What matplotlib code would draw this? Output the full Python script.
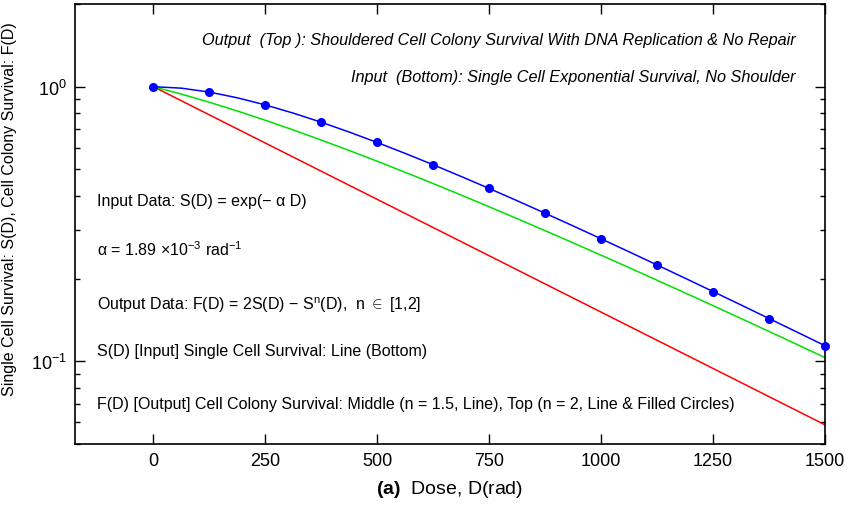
import numpy as np
import matplotlib.pyplot as plt
from matplotlib.ticker import LogLocator, NullFormatter

plt.rcParams['font.family'] = ['Liberation Sans', 'DejaVu Sans']
plt.rcParams['mathtext.fontset'] = 'custom'
plt.rcParams['mathtext.rm'] = 'Liberation Sans'
plt.rcParams['mathtext.it'] = 'Liberation Sans:italic'
plt.rcParams['mathtext.bf'] = 'Liberation Sans:bold'

# dose (rad) and survival values
dose = [0, 62.5, 125, 187.5, 250, 312.5, 375, 437.5, 500, 562.5, 625, 687.5, 750,
        812.5, 875, 937.5, 1000, 1062.5, 1125, 1187.5, 1250, 1312.5, 1375, 1437.5, 1500]
single = [1, 0.88859, 0.78958, 0.70161, 0.62343, 0.55398, 0.49225, 0.43740, 0.38867,
          0.34537, 0.30689, 0.27270, 0.24231, 0.21532, 0.19132, 0.17001, 0.15106,
          0.13424, 0.11927, 0.10599, 0.09418, 0.08369, 0.07436, 0.06608, 0.05871]
middle = [1, 0.93955, 0.87755, 0.81554, 0.75461, 0.69563, 0.63913, 0.58552, 0.53503,
          0.48777, 0.44377, 0.40299, 0.36534, 0.33073, 0.29896, 0.26992, 0.24341,
          0.21930, 0.19735, 0.17747, 0.15946, 0.14317, 0.12844, 0.11517, 0.10319]
top = [1, 0.98759, 0.95572, 0.91096, 0.85819, 0.80107, 0.74219, 0.68348, 0.62628,
       0.57146, 0.51960, 0.47103, 0.42591, 0.38428, 0.34604, 0.31112, 0.27930,
       0.25046, 0.22431, 0.20075, 0.17949, 0.16038, 0.14319, 0.12779, 0.11397]
dose_pts = [0, 125, 250, 375, 500, 625, 750, 875, 1000, 1125, 1250, 1375, 1500]
top_pts = [1, 0.95572, 0.85819, 0.74219, 0.62628, 0.51960, 0.42591, 0.34604,
           0.27930, 0.22431, 0.17949, 0.14319, 0.11397]
xticks = [0, 250, 500, 750, 1000, 1250, 1500]

fig = plt.figure(figsize=(8.5, 5.06), dpi=100)
ax = fig.add_axes([75/850, 61/506, 750/850, 440/506])

ax.plot(dose, single, color='#ff0000', lw=1.1)
ax.plot(dose, middle, color='#00e000', lw=1.1)
ax.plot(dose, top, color='#0000ff', lw=1.1)
ax.plot(dose_pts, top_pts, 'o', color='#0000ff', ms=5.5, clip_on=False, zorder=5)

ax.set_yscale('log')
ax.set_xlim(-175, 1500)
ax.set_ylim(0.05, 2)
ax.set_xticks(xticks)
ax.yaxis.set_major_locator(LogLocator(base=10, numticks=10))
ax.yaxis.set_minor_locator(LogLocator(base=10, subs=np.arange(2, 10), numticks=10))
ax.yaxis.set_minor_formatter(NullFormatter())
ax.tick_params(which='both', direction='in', top=True, right=True, labelsize=13, width=1)
ax.tick_params(which='major', length=7.2, pad=6)
ax.tick_params(which='minor', length=3.6)
for s in ax.spines.values():
    s.set_linewidth(1.2)

ax.set_xlabel(r'$\mathbf{(a)}$  Dose, D(rad)', fontsize=14, labelpad=6)
ax.set_ylabel('Single Cell Survival: S(D), Cell Colony Survival: F(D)', fontsize=11.5)
ax.yaxis.set_label_coords(-0.077, 0.536)

fs = 11.5
ax.text(0.961, 0.920, 'Output  (Top ): Shouldered Cell Colony Survival With DNA Replication & No Repair',
        transform=ax.transAxes, ha='right', va='center', fontsize=11.7, style='italic')
ax.text(0.961, 0.836, 'Input  (Bottom): Single Cell Exponential Survival, No Shoulder',
        transform=ax.transAxes, ha='right', va='center', fontsize=11.7, style='italic')

lx = 0.029
ax.text(lx, 0.553, 'Input Data: S(D) = exp(\u2212 \u03b1 D)', transform=ax.transAxes,
        va='center', fontsize=fs)
ax.text(lx, 0.443, '\u03b1 = 1.89 \u00d710$^{\u22123}$ rad$^{\u22121}$', transform=ax.transAxes,
        va='center', fontsize=fs)
ax.text(lx, 0.318, 'Output Data: F(D) = 2S(D) \u2212 S$^{\\mathrm{n}}$(D),  n $\\in$ [1,2]',
        transform=ax.transAxes, va='center', fontsize=fs)
ax.text(lx, 0.212, 'S(D) [Input] Single Cell Survival: Line (Bottom)', transform=ax.transAxes,
        va='center', fontsize=fs)
ax.text(lx, 0.091, 'F(D) [Output] Cell Colony Survival: Middle (n = 1.5, Line), Top (n = 2, Line & Filled Circles)',
        transform=ax.transAxes, va='center', fontsize=fs)

plt.savefig('out.png', dpi=100)
